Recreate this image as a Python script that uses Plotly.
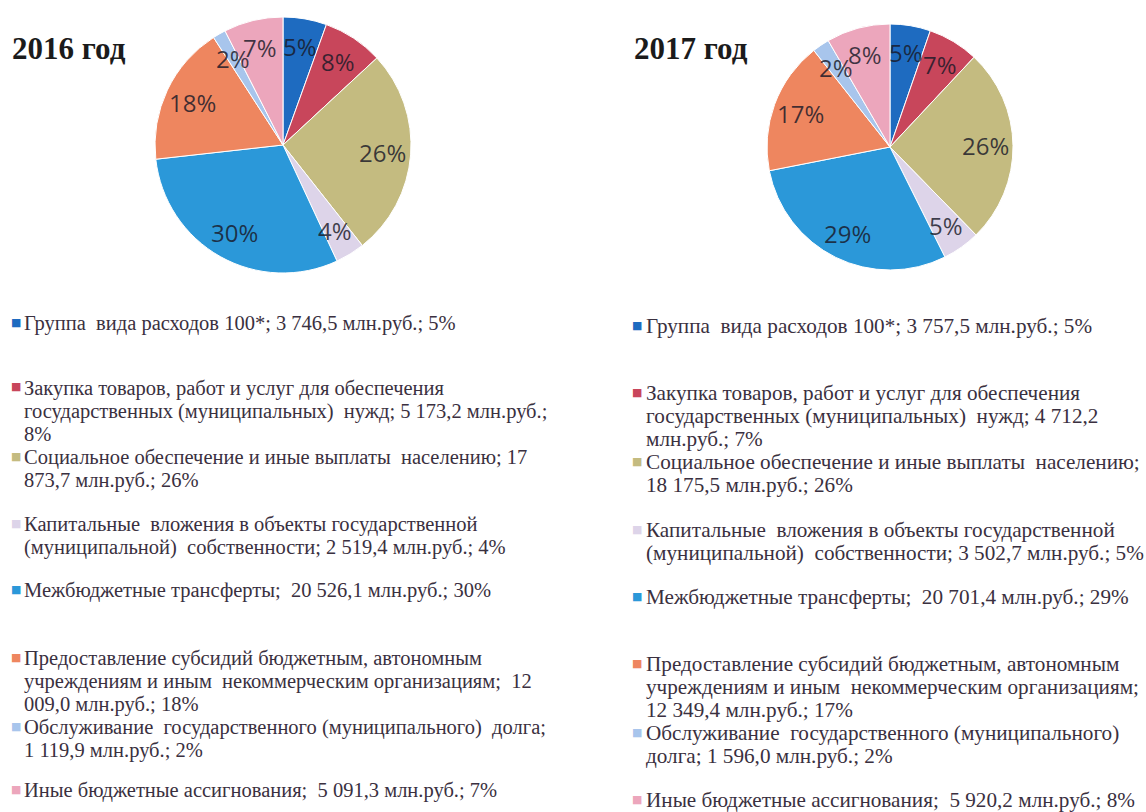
import math
import plotly.graph_objects as go

W, H = 1146, 812

categories = [
    "Группа вида расходов 100*",
    "Закупка товаров, работ и услуг для обеспечения государственных (муниципальных) нужд",
    "Социальное обеспечение и иные выплаты населению",
    "Капитальные вложения в объекты государственной (муниципальной) собственности",
    "Межбюджетные трансферты",
    "Предоставление субсидий бюджетным, автономным учреждениям и иным некоммерческим организациям",
    "Обслуживание государственного (муниципального) долга",
    "Иные бюджетные ассигнования",
]
values_2016 = [3746.5, 5173.2, 17873.7, 2519.4, 20526.1, 12009.0, 1119.9, 5091.3]
values_2017 = [3757.5, 4712.2, 18175.5, 3502.7, 20701.4, 12349.4, 1596.0, 5920.2]
pct_2016 = [5, 8, 26, 4, 30, 18, 2, 7]
pct_2017 = [5, 7, 26, 5, 29, 17, 2, 8]

legend_2016 = [
    "Группа  вида расходов 100*; 3 746,5 млн.руб.; 5%",
    "Закупка товаров, работ и услуг для обеспечения<br>государственных (муниципальных)  нужд; 5 173,2 млн.руб.;<br>8%",
    "Социальное обеспечение и иные выплаты  населению; 17<br>873,7 млн.руб.; 26%",
    "Капитальные  вложения в объекты государственной<br>(муниципальной)  собственности; 2 519,4 млн.руб.; 4%",
    "Межбюджетные трансферты;  20 526,1 млн.руб.; 30%",
    "Предоставление субсидий бюджетным, автономным<br>учреждениям и иным  некоммерческим организациям;  12<br>009,0 млн.руб.; 18%",
    "Обслуживание  государственного (муниципального)  долга;<br>1 119,9 млн.руб.; 2%",
    "Иные бюджетные ассигнования;  5 091,3 млн.руб.; 7%",
]
legend_2017 = [
    "Группа  вида расходов 100*; 3 757,5 млн.руб.; 5%",
    "Закупка товаров, работ и услуг для обеспечения<br>государственных (муниципальных)  нужд; 4 712,2<br>млн.руб.; 7%",
    "Социальное обеспечение и иные выплаты  населению;<br>18 175,5 млн.руб.; 26%",
    "Капитальные  вложения в объекты государственной<br>(муниципальной)  собственности; 3 502,7 млн.руб.; 5%",
    "Межбюджетные трансферты;  20 701,4 млн.руб.; 29%",
    "Предоставление субсидий бюджетным, автономным<br>учреждениям и иным  некоммерческим организациям;<br>12 349,4 млн.руб.; 17%",
    "Обслуживание  государственного (муниципального)<br>долга; 1 596,0 млн.руб.; 2%",
    "Иные бюджетные ассигнования;  5 920,2 млн.руб.; 8%",
]

colors = ["#1e6bc0", "#c8465b", "#c4bb80", "#ddd4e9", "#2b98d9", "#ee865f", "#a8c5ec", "#eca6bc"]

legend_y_2016 = [323, 388, 457, 524, 590, 658, 727, 790]
legend_y_2017 = [326, 393, 462, 530, 597, 664, 733, 800]
LINE = 23

# pie geometry in pixels: centre x, centre y, radius
pies = [
    (values_2016, pct_2016, 283, 145, 128),
    (values_2017, pct_2017, 890, 147, 123),
]
LABEL_R = 0.78

fig = go.Figure()
annotations = []

for vals, pcts, cx, cy, r in pies:
    fig.add_trace(go.Pie(
        labels=categories,
        values=vals,
        textinfo="none",
        sort=False,
        direction="clockwise",
        rotation=0,
        marker=dict(colors=colors, line=dict(color="white", width=1)),
        domain=dict(x=[(cx - r) / W, (cx + r) / W], y=[1 - (cy + r) / H, 1 - (cy - r) / H]),
        showlegend=False,
    ))
    total = sum(vals)
    cum = 0.0
    for v, p in zip(vals, pcts):
        theta = 2 * math.pi * (cum + v / 2) / total
        cum += v
        lx = cx + LABEL_R * r * math.sin(theta)
        ly = cy - LABEL_R * r * math.cos(theta)
        annotations.append(dict(
            text=f"{p}%", x=lx / W, y=1 - ly / H, xref="paper", yref="paper",
            xanchor="center", yanchor="middle", showarrow=False,
            font=dict(family="Open Sans", size=24, color="rgba(25,25,40,0.82)"),
        ))

for label, x in [("2016 год", 10), ("2017 год", 632)]:
    annotations.append(dict(
        text=f"<b>{label}</b>", x=x / W, y=1 - 49 / H, xref="paper", yref="paper",
        xanchor="left", yanchor="middle", showarrow=False,
        font=dict(family="Liberation Serif", size=31, color="#1b1b1b"),
    ))

for texts, ys, xsq, xt, fs in [(legend_2016, legend_y_2016, 16, 23, 20.5),
                               (legend_2017, legend_y_2017, 637, 645, 21.2)]:
    for i, (t, y) in enumerate(zip(texts, ys)):
        annotations.append(dict(
            text="■", x=xsq / W, y=1 - (y - 1) / H, xref="paper", yref="paper",
            xanchor="center", yanchor="middle", showarrow=False,
            font=dict(family="DejaVu Sans", size=11, color=colors[i]),
        ))
        for k, line in enumerate(t.split("<br>")):
            annotations.append(dict(
                text=line, x=xt / W, y=1 - (y + k * LINE) / H, xref="paper", yref="paper",
                xanchor="left", yanchor="middle", align="left", showarrow=False,
                borderpad=0,
                font=dict(family="Liberation Serif", size=fs, color="#3a3040"),
            ))

fig.update_layout(
    width=W, height=H,
    margin=dict(l=0, r=0, t=0, b=0),
    paper_bgcolor="white",
    plot_bgcolor="white",
    annotations=annotations,
)

fig.write_html("out.html", config={"displayModeBar": False},
               post_script="document.body.style.margin='0';")
